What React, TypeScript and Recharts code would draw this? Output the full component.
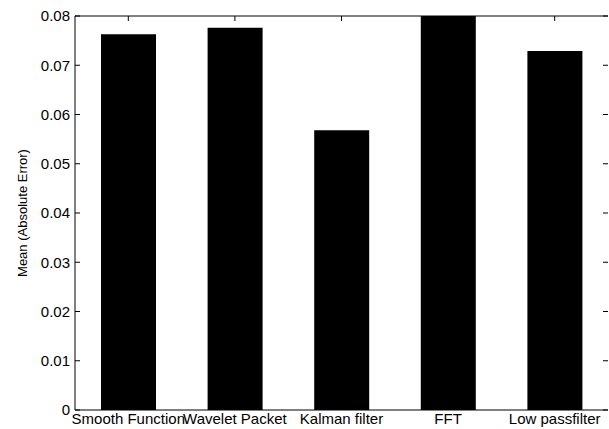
import { BarChart, Bar, XAxis, YAxis } from "recharts";

const methods = ["Smooth Function", "Wavelet Packet", "Kalman filter", "FFT", "Low passfilter"];
const meanAbsError = [0.0763, 0.0776, 0.0568, 0.0805, 0.0729];
const yTicks = [0, 0.01, 0.02, 0.03, 0.04, 0.05, 0.06, 0.07, 0.08];

const data = methods.map((m, i) => ({ method: m, err: meanAbsError[i] }));

const font = "Liberation Sans, Arial, sans-serif";

const fmt = (v: number) => (v === 0 ? "0" : v.toFixed(2));

// matlab style: ticks point into the plot
const LeftTick = ({ x, y, payload }: any) => (
    <g>
        <line x1={x + 5} x2={x + 10} y1={y} y2={y} stroke="#000" />
        <text x={x} y={y} dy="0.35em" textAnchor="end" fontSize={15} fontFamily={font} fill="#000">
            {fmt(payload.value)}
        </text>
    </g>
);

const RightTick = ({ x, y }: any) => <line x1={x - 5} x2={x} y1={y} y2={y} stroke="#000" />;

const TopTick = ({ x, y }: any) => <line x1={x} x2={x} y1={y} y2={y + 5} stroke="#000" />;

export default function App() {
    return (
        <div style={{ position: "fixed", left: 0, top: 0, background: "#fff" }}>
            <BarChart
                width={609}
                height={429}
                data={data}
                margin={{ top: 15, right: 0, bottom: 0, left: 0 }}
                barSize={55}
            >
                <XAxis
                    xAxisId="bottom"
                    dataKey="method"
                    height={19}
                    stroke="#000"
                    tickLine={false}
                    tickSize={0}
                    tickMargin={3}
                    tick={{ fill: "#000", fontSize: 15, fontFamily: font }}
                    interval={0}
                />
                <XAxis
                    xAxisId="top"
                    orientation="top"
                    dataKey="method"
                    height={1}
                    stroke="#000"
                    tickLine={false}
                    tickSize={0}
                    tickMargin={0}
                    tick={<TopTick />}
                    interval={0}
                />
                <YAxis
                    yAxisId="left"
                    width={75}
                    domain={[0, 0.08]}
                    ticks={yTicks}
                    allowDataOverflow
                    stroke="#000"
                    tickLine={false}
                    tickSize={0}
                    tickMargin={5}
                    tick={<LeftTick />}
                    label={{
                        value: "Mean (Absolute Error)",
                        angle: -90,
                        position: "insideLeft",
                        offset: 22,
                        style: { textAnchor: "middle", fill: "#000", fontSize: 13, fontFamily: font },
                    }}
                />
                <YAxis
                    yAxisId="right"
                    orientation="right"
                    width={1}
                    domain={[0, 0.08]}
                    ticks={yTicks}
                    allowDataOverflow
                    axisLine={false}
                    tickLine={false}
                    tickSize={0}
                    tickMargin={0}
                    tick={<RightTick />}
                />
                <Bar
                    dataKey="err"
                    xAxisId="bottom"
                    yAxisId="left"
                    fill="#000"
                    isAnimationActive={false}
                />
            </BarChart>
        </div>
    );
}
